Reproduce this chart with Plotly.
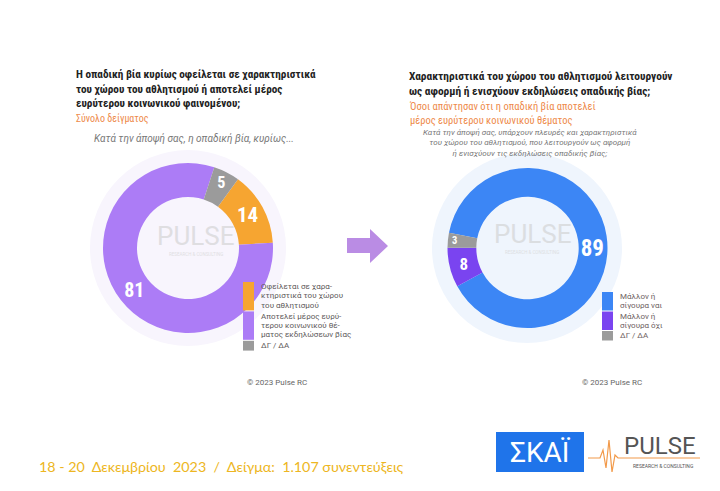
import plotly.graph_objects as go

# ---- data ----
left_labels = ["Οφείλεται σε χαρα-<br>κτηριστικά του χώρου<br>του αθλητισμού",
               "Αποτελεί μέρος ευρύ-<br>τερου κοινωνικού θέ-<br>ματος εκδηλώσεων βίας",
               "ΔΓ / ΔΑ"]
left_values = [14, 81, 5]
left_colors = ["#F6A531", "#AC7CF6", "#9B9B9B"]

right_labels = ["Μάλλον ή<br>σίγουρα ναι", "Μάλλον ή<br>σίγουρα όχι", "ΔΓ / ΔΑ"]
right_values = [89, 8, 3]
right_colors = ["#3C86F5", "#7A44F0", "#9B9B9B"]

W, H = 720, 491
def px(x): return x / W
def py(y): return 1 - y / H

fig = go.Figure()

fig.add_trace(go.Pie(
    labels=left_labels, values=left_values, sort=False, direction="clockwise",
    rotation=36, hole=0.6, marker=dict(colors=left_colors),
    textinfo="value", textposition="inside", insidetextorientation="horizontal",
    textfont=dict(color="white", size=[21, 20, 16], family="Roboto Condensed, Roboto", weight="bold"),
    domain=dict(x=[px(103), px(273)], y=[py(333), py(163)]),
    showlegend=False, hoverinfo="label+value",
))
fig.add_trace(go.Pie(
    labels=right_labels, values=right_values, sort=False, direction="clockwise",
    rotation=281, hole=0.64, marker=dict(colors=right_colors),
    textinfo="value", textposition="inside", insidetextorientation="horizontal",
    textfont=dict(color="white", size=[23, 17, 15], family="Roboto Condensed, Roboto", weight="bold"),
    domain=dict(x=[px(447), px(608)], y=[py(328), py(168)]),
    showlegend=False, hoverinfo="label+value",
))

shapes = []
ann = []

def A(x, y, text, size, color, xanchor="left", yanchor="top", family="Roboto", align="left",
      opacity=1, weight="normal"):
    ann.append(dict(x=px(x), y=py(y), xref="paper", yref="paper", text=text, showarrow=False,
                    xanchor=xanchor, yanchor=yanchor, align=align, opacity=opacity,
                    font=dict(size=size, color=color, family=family, weight=weight)))

# pale halos behind donuts
shapes.append(dict(type="circle", xref="paper", yref="paper", layer="below",
                   x0=px(90), x1=px(286), y0=py(346), y1=py(150),
                   fillcolor="#F8F5FD", line=dict(width=0)))
shapes.append(dict(type="circle", xref="paper", yref="paper", layer="below",
                   x0=px(432), x1=px(622), y0=py(343), y1=py(153),
                   fillcolor="#EFF5FD", line=dict(width=0)))
# arrow
arrow_pts = [(347, 238), (370, 238), (370, 229), (388, 246), (370, 263), (370, 253), (347, 253)]
shapes.append(dict(type="path", xref="paper", yref="paper",
                   path="M " + " L ".join("{} {}".format(px(a), py(b)) for a, b in arrow_pts) + " Z",
                   fillcolor="#BA8CE4", line=dict(width=0)))


# custom legends (tall colour bars like the original)
def legend(x0, top, labels, colors, lh, color):
    y = top
    for lab, col in zip(labels, colors):
        lines = lab.split("<br>")
        h = len(lines) * lh + 0.5
        shapes.append(dict(type="rect", xref="paper", yref="paper",
                           x0=px(x0), x1=px(x0 + 11), y0=py(y + h), y1=py(y),
                           fillcolor=col, line=dict(width=0)))
        for i, ln in enumerate(lines):
            A(x0 + 16, y + 4.6 + i * lh, ln, 8, color, yanchor="middle", family="Roboto")
        y += h + 1


legend(243, 282, left_labels, left_colors, 9.3, "#5E5A5A")
legend(602, 292, right_labels, right_colors, 9.0, "#6E6262")

# SKAI logo box
shapes.append(dict(type="rect", xref="paper", yref="paper",
                   x0=px(496), x1=px(584), y0=py(472), y1=py(432),
                   fillcolor="#1F74EA", line=dict(width=0)))
# pulse line in logo
pl = [(588, 458), (600, 458), (603, 450), (606, 468), (609, 440), (612, 472), (615, 455), (618, 458), (700, 458)]
shapes.append(dict(type="path", xref="paper", yref="paper",
                   path="M " + " L ".join("{} {}".format(px(a), py(b)) for a, b in pl),
                   line=dict(color="#F29A4A", width=1.2)))

COND = "Roboto Condensed, Roboto"
A(74, 66, "Η οπαδική βία κυρίως οφείλεται σε χαρακτηριστικά<br>του χώρου του αθλητισμού ή αποτελεί μέρος<br>ευρύτερου κοινωνικού φαινομένου;",
  11.2, "#222222", family=COND, weight="bold")
A(74, 111, "Σύνολο δείγματος", 10, "#EE8A4A", family=COND)
A(92, 131, "<i>Κατά την άποψή σας, η οπαδική βία, κυρίως...</i>", 10, "#777777", family="Roboto")

A(407, 67, "Χαρακτηριστικά του χώρου του αθλητισμού λειτουργούν<br>ως αφορμή ή ενισχύουν εκδηλώσεις οπαδικής βίας;",
  11.4, "#222222", family=COND, weight="bold")
A(407, 98, "Όσοι απάντησαν ότι η οπαδική βία αποτελεί<br>μέρος ευρύτερου κοινωνικού θέματος", 10.5, "#EE8A4A",
  family=COND)
A(530, 126, "<i>Κατά την άποψή σας, υπάρχουν πλευρές και χαρακτηριστικά<br>του χώρου του αθλητισμού, που λειτουργούν ως αφορμή<br>ή ενισχύουν τις εκδηλώσεις οπαδικής βίας;</i>",
  8, "#777777", xanchor="center", align="center", family="Roboto")

# watermarks
for cx, cy in [(196, 236), (532, 234)]:
    A(cx, cy, "PULSE", 26, "#CFCFCF", xanchor="center", yanchor="middle", family="Roboto",
      opacity=0.6)
    A(cx, cy + 18, "RESEARCH & CONSULTING", 4.5, "#D6D6D6", xanchor="center", yanchor="middle",
      family="Roboto", opacity=0.7)

A(245, 382, "© 2023 Pulse RC", 8, "#666666", yanchor="middle", family="Roboto")
A(580, 382, "© 2023 Pulse RC", 8, "#666666", yanchor="middle", family="Roboto")

A(37, 466, "18 - 20  Δεκεμβρίου  2023  /  Δείγμα:  1.107 συνεντεύξεις", 14.3, "#EDB622",
  yanchor="middle", family="Lato")
A(540, 452, "ΣΚΑΪ", 28, "white", xanchor="center", yanchor="middle", family="Roboto")
A(660, 446, "PULSE", 24, "#555555", xanchor="center", yanchor="middle", family="Roboto")
A(663, 466, "RESEARCH & CONSULTING", 5, "#555555", xanchor="center", yanchor="middle", family="Roboto")

fig.update_layout(
    width=W, height=H, margin=dict(l=0, r=0, t=0, b=0),
    paper_bgcolor="white", plot_bgcolor="white",
    shapes=shapes, annotations=ann, showlegend=False,
)

fig.write_html("out.html")
